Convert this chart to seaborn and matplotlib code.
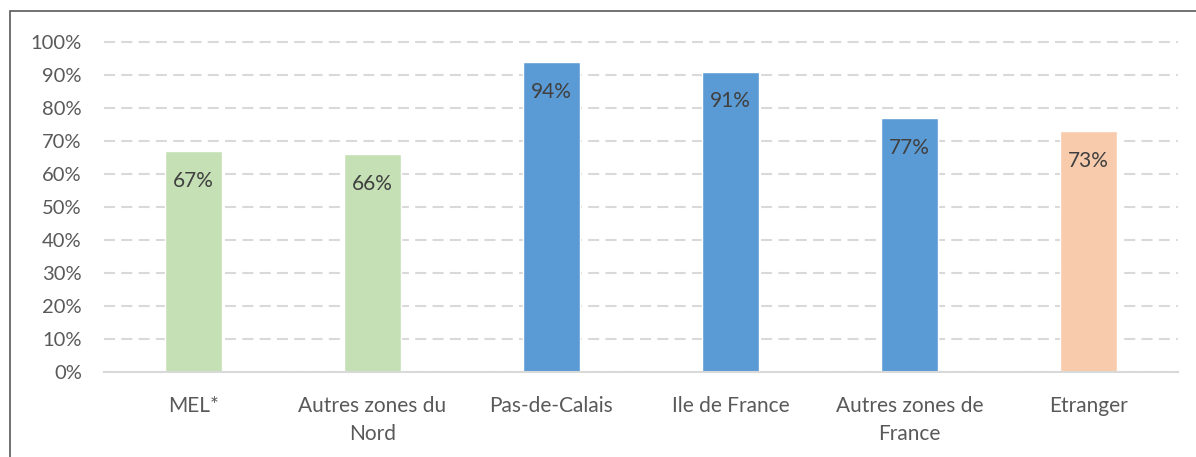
import matplotlib
matplotlib.use('Agg')
import matplotlib.pyplot as plt
import seaborn as sns
import pandas as pd
from matplotlib.patches import Rectangle

# données
zones = ['MEL*', 'Autres zones du\nNord', 'Pas-de-Calais', 'Ile de France',
         'Autres zones de\nFrance', 'Etranger']
taux = [67, 66, 94, 91, 77, 73]
couleurs = ['#C5E0B4', '#C5E0B4', '#5B9BD5', '#5B9BD5', '#5B9BD5', '#F8CBAD']
yticks = [0, 10, 20, 30, 40, 50, 60, 70, 80, 90, 100]

sns.set_theme(style='white')
plt.rcParams['font.family'] = ['Lato', 'DejaVu Sans']

df = pd.DataFrame({'zone': zones, 'taux': taux})

fig = plt.figure(figsize=(11.96, 4.57), dpi=100)
ax = fig.add_axes([104 / 1196, 85 / 457, 1074 / 1196, (372 - 38.7) / 457])

sns.barplot(data=df, x='zone', y='taux', hue='zone', palette=couleurs,
            legend=False, width=0.32, saturation=1, ax=ax, zorder=3)

ax.set_ylim(0, 101)
ax.set_xlim(-0.5, len(zones) - 0.5)
ax.set_yticks(yticks)
ax.set_yticklabels([f'{v}%' for v in yticks])
ax.yaxis.grid(True, color='#D9D9D9', linestyle=(0, (5.3, 3)), linewidth=1.5, zorder=0)
ax.set_axisbelow(True)
for s in ['top', 'right', 'left']:
    ax.spines[s].set_visible(False)
ax.spines['bottom'].set_color('#D9D9D9')
ax.spines['bottom'].set_linewidth(1.5)
ax.spines['bottom'].set_zorder(4)
ax.tick_params(axis='y', length=0, pad=16, labelsize=14.5, labelcolor='#595959')
ax.tick_params(axis='x', length=0, pad=17, labelsize=15, labelcolor='#595959')
for lab in ax.get_xticklabels():
    lab.set_linespacing(1.55)
ax.set_xlabel('')
ax.set_ylabel('')

# étiquettes de valeurs
for i, v in enumerate(taux):
    ax.text(i, v - 9, f'{v}%', ha='center', va='center', fontsize=15,
            color='#404040', zorder=5)

# cadre du graphique (coupé à droite et en bas)
fig.patches.append(Rectangle((10 / 1196, -0.1), 1.2, (457 - 11) / 457 + 0.1,
                             transform=fig.transFigure, fill=False,
                             edgecolor='#595959', linewidth=1.2))

fig.savefig('out.png', dpi=100)
